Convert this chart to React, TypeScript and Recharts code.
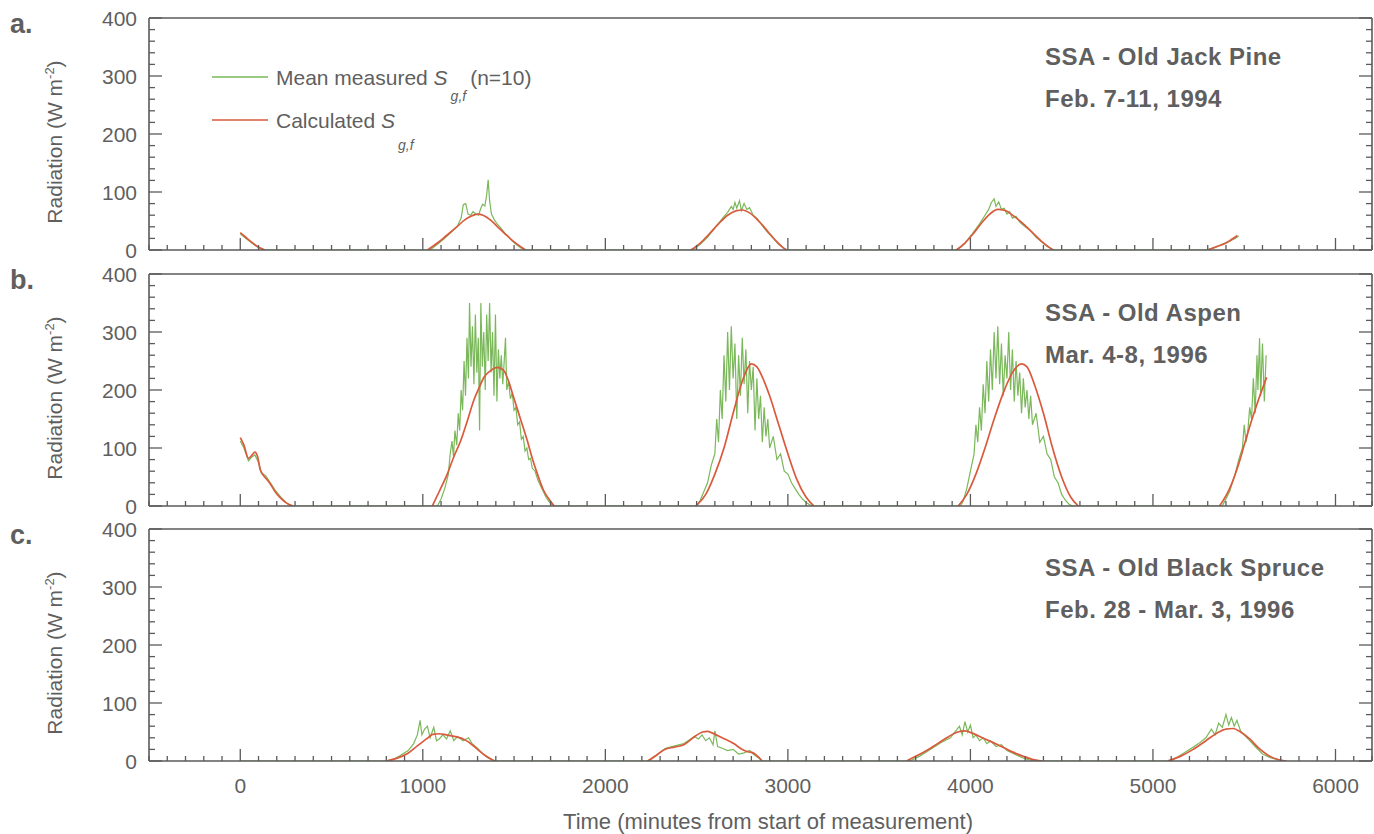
import React from 'react';
import { LineChart, Line, XAxis, YAxis } from 'recharts';

// time axis (minutes from start of measurement)
const timeDomain = [-500, 6200];
const timeLabels = [0, 1000, 2000, 3000, 4000, 5000, 6000];
const radiationLabels = [0, 100, 200, 300, 400];

// a. SSA - Old Jack Pine
const jackPineMeasured = [
  [0, 28], [30, 20], [60, 13], [90, 6], [120, 1], [140, 0],
  [1040, 0], [1080, 10], [1120, 20], [1160, 32], [1190, 42], [1210, 55], [1222, 78], [1235, 80], [1248, 62], [1262, 60],
  [1275, 66], [1290, 62], [1305, 60], [1318, 72], [1328, 79], [1340, 76], [1350, 95], [1358, 121], [1366, 85], [1376, 62],
  [1392, 52], [1410, 44], [1430, 37], [1450, 29], [1470, 23], [1490, 16], [1510, 10], [1530, 5], [1550, 1], [1570, 0],
  [2480, 0], [2520, 10], [2560, 22], [2600, 38], [2630, 50], [2650, 58], [2670, 65], [2690, 75], [2700, 70], [2710, 82],
  [2720, 72], [2735, 85], [2745, 68], [2760, 80], [2775, 70], [2790, 73], [2810, 60], [2830, 55], [2860, 42], [2890, 30],
  [2920, 20], [2950, 10], [2980, 3], [3000, 0],
  [3930, 0], [3970, 12], [4010, 28], [4050, 45], [4080, 60], [4100, 70], [4115, 82], [4130, 88], [4140, 75], [4155, 83],
  [4170, 70], [4185, 72], [4200, 62], [4215, 66], [4230, 55], [4250, 58], [4270, 48], [4300, 40], [4330, 33], [4360, 22],
  [4390, 14], [4420, 6], [4450, 1], [4460, 0],
  [5290, 0], [5340, 4], [5380, 10], [5420, 15], [5450, 20], [5470, 24],
];
const jackPineCalculated = [
  [[0, 30], [30, 22], [60, 14], [90, 7], [120, 2], [135, 0]],
  [[1026, 0], [1080, 12], [1130, 25], [1180, 38], [1230, 52], [1270, 59], [1300, 62], [1330, 60], [1370, 52], [1410, 40],
    [1450, 28], [1500, 14], [1540, 5], [1563, 0]],
  [[2468, 0], [2520, 12], [2570, 28], [2620, 45], [2670, 60], [2720, 68], [2750, 69], [2790, 64], [2840, 50], [2890, 32],
    [2940, 14], [2970, 5], [2990, 0]],
  [[3922, 0], [3970, 12], [4020, 30], [4070, 50], [4110, 63], [4150, 70], [4190, 68], [4240, 58], [4290, 45], [4340, 30],
    [4390, 15], [4430, 5], [4454, 0]],
  [[5300, 0], [5350, 6], [5400, 12], [5430, 18], [5463, 25]],
];

// b. SSA - Old Aspen
const aspenMeasured = [
  [0, 112], [20, 100], [45, 78], [65, 85], [80, 88], [100, 75], [115, 58], [140, 52], [165, 40], [190, 28], [220, 16],
  [250, 6], [270, 1], [290, 0],
  [1080, 0], [1100, 12], [1120, 30], [1140, 55], [1150, 90], [1160, 112], [1168, 85], [1176, 130], [1186, 105], [1194, 160],
  [1202, 130], [1210, 200], [1218, 165], [1226, 250], [1234, 190], [1242, 290], [1250, 220], [1256, 350], [1264, 240],
  [1272, 310], [1280, 210], [1288, 330], [1296, 230], [1304, 290], [1311, 130], [1318, 350], [1326, 240], [1334, 300],
  [1342, 200], [1350, 330], [1358, 250], [1366, 350], [1374, 230], [1382, 300], [1390, 190], [1398, 330], [1406, 180],
  [1414, 270], [1422, 220], [1430, 260], [1438, 210], [1446, 250], [1453, 290], [1460, 200], [1470, 215], [1480, 185],
  [1490, 195], [1500, 165], [1510, 170], [1520, 140], [1530, 145], [1540, 115], [1550, 120], [1560, 95], [1570, 100],
  [1580, 80], [1590, 82], [1600, 65], [1615, 60], [1630, 45], [1645, 35], [1660, 25], [1675, 15], [1690, 8], [1705, 3],
  [1720, 0],
  [2500, 0], [2520, 10], [2540, 25], [2560, 40], [2580, 70], [2600, 90], [2610, 150], [2620, 110], [2630, 200], [2640, 150],
  [2650, 260], [2660, 180], [2670, 300], [2680, 200], [2690, 310], [2700, 220], [2710, 280], [2720, 150], [2730, 260],
  [2740, 190], [2750, 290], [2760, 210], [2770, 270], [2780, 160], [2790, 250], [2800, 200], [2810, 240], [2820, 130],
  [2830, 220], [2840, 150], [2850, 190], [2860, 110], [2870, 170], [2880, 120], [2890, 150], [2900, 100], [2920, 120],
  [2940, 80], [2960, 90], [2980, 60], [3000, 55], [3020, 40], [3040, 30], [3060, 20], [3080, 12], [3100, 6], [3120, 2],
  [3140, 0],
  [3945, 0], [3960, 8], [3980, 30], [4000, 60], [4020, 90], [4030, 140], [4040, 110], [4050, 170], [4060, 130], [4070, 210],
  [4080, 160], [4090, 250], [4100, 180], [4110, 270], [4120, 200], [4130, 300], [4140, 220], [4150, 310], [4160, 210],
  [4170, 280], [4180, 190], [4190, 260], [4200, 220], [4210, 300], [4220, 200], [4230, 270], [4240, 180], [4250, 250],
  [4260, 190], [4270, 230], [4280, 160], [4290, 220], [4300, 170], [4310, 200], [4320, 150], [4330, 190], [4340, 140],
  [4360, 160], [4380, 110], [4400, 120], [4420, 90], [4440, 80], [4460, 50], [4480, 40], [4500, 20], [4520, 10],
  [4540, 3], [4560, 0],
  [5380, 0], [5420, 25], [5450, 55], [5470, 80], [5490, 100], [5500, 140], [5510, 110], [5520, 130], [5530, 170],
  [5540, 150], [5550, 220], [5560, 160], [5570, 260], [5575, 200], [5584, 289], [5590, 190], [5600, 280], [5610, 180],
  [5620, 260],
];
const aspenCalculated = [
  [[0, 118], [20, 105], [45, 82], [65, 88], [80, 93], [95, 85], [110, 62], [140, 48], [165, 38], [190, 25], [220, 14],
    [245, 7], [265, 3], [290, 0]],
  [[1052, 0], [1090, 25], [1134, 55], [1170, 85], [1207, 112], [1245, 148], [1279, 182], [1310, 205], [1335, 222],
    [1370, 233], [1409, 239], [1443, 234], [1470, 215], [1498, 187], [1535, 150], [1573, 112], [1600, 82], [1628, 55],
    [1660, 28], [1700, 8], [1720, 0]],
  [[2496, 0], [2550, 20], [2600, 55], [2650, 100], [2700, 160], [2750, 215], [2780, 238], [2800, 245], [2830, 240],
    [2870, 215], [2900, 190], [2950, 140], [3000, 90], [3050, 45], [3100, 15], [3143, 0]],
  [[3933, 0], [3980, 20], [4030, 55], [4080, 100], [4130, 150], [4180, 195], [4230, 230], [4280, 245], [4310, 240],
    [4350, 210], [4400, 160], [4450, 100], [4500, 50], [4550, 15], [4591, 0]],
  [[5365, 0], [5420, 30], [5470, 73], [5500, 105], [5540, 147], [5580, 185], [5623, 222]],
];

// c. SSA - Old Black Spruce
const spruceMeasured = [
  [0, 0], [820, 0], [870, 8], [920, 18], [950, 30], [970, 45], [985, 70], [995, 45], [1010, 55], [1025, 60], [1040, 40],
  [1060, 58], [1075, 35], [1090, 38], [1110, 45], [1130, 38], [1150, 52], [1170, 35], [1190, 42], [1220, 35], [1250, 40],
  [1270, 30], [1300, 22], [1330, 12], [1360, 5], [1400, 0],
  [2240, 0], [2290, 12], [2330, 22], [2380, 26], [2430, 30], [2460, 36], [2490, 42], [2510, 38], [2530, 45], [2550, 35],
  [2570, 40], [2590, 28], [2600, 52], [2615, 25], [2640, 22], [2670, 18], [2700, 20], [2730, 12], [2760, 14], [2790, 18],
  [2810, 12], [2840, 5], [2860, 0],
  [3670, 0], [3720, 8], [3780, 20], [3840, 32], [3890, 40], [3920, 52], [3940, 60], [3955, 45], [3970, 68], [3985, 50],
  [4000, 62], [4015, 40], [4030, 45], [4050, 35], [4070, 40], [4090, 30], [4110, 35], [4140, 25], [4170, 28], [4200, 18],
  [4240, 12], [4280, 6], [4320, 2], [4350, 0],
  [5100, 0], [5150, 10], [5200, 20], [5250, 30], [5290, 40], [5320, 55], [5340, 45], [5360, 65], [5380, 58], [5400, 80],
  [5415, 62], [5430, 75], [5445, 60], [5460, 70], [5480, 52], [5500, 45], [5530, 35], [5560, 25], [5600, 12], [5640, 6],
  [5690, 2], [5730, 0],
];
const spruceCalculated = [
  [[800, 0], [860, 5], [917, 13], [970, 26], [1024, 39], [1054, 46], [1090, 47], [1129, 45], [1180, 42], [1234, 36],
    [1270, 28], [1300, 20], [1340, 10], [1391, 0]],
  [[2231, 0], [2280, 10], [2325, 20], [2380, 24], [2430, 28], [2480, 40], [2534, 50], [2560, 51], [2587, 48], [2640, 40],
    [2703, 30], [2750, 20], [2780, 16], [2810, 14], [2835, 8], [2859, 0]],
  [[3650, 0], [3700, 8], [3760, 18], [3820, 30], [3880, 42], [3930, 50], [3970, 52], [4010, 48], [4080, 38], [4150, 28],
    [4220, 17], [4290, 8], [4350, 2], [4390, 0]],
  [[5080, 0], [5150, 8], [5220, 20], [5290, 35], [5350, 48], [5400, 55], [5440, 56], [5480, 50], [5530, 38], [5580, 22],
    [5630, 10], [5680, 3], [5730, 0]],
];

const GREEN = '#7ab85a';
const RED = '#d95a3c';
const AXIS = '#5a5a5a';
const TEXT = '#5f5f5f';
const FONT = '"Liberation Sans", Arial, Helvetica, sans-serif';

const toPoints = (pairs: number[][]) => pairs.map(([t, v]) => ({ t, v }));
// humps joined with a null gap so the calculated curve is not drawn at night
const joinHumps = (humps: number[][][]) =>
  humps.flatMap((h, i) => (i === 0 ? toPoints(h) : [{ t: (humps[i - 1][humps[i - 1].length - 1][0] + h[0][0]) / 2, v: null }, ...toPoints(h)]));

const minorTimeTicks: number[] = [];
for (let t = timeDomain[0]; t <= timeDomain[1]; t += 100) minorTimeTicks.push(t);
const minorRadTicks: number[] = [];
for (let r = 0; r <= 400; r += 20) minorRadTicks.push(r);

const XTick = (props: any) => {
  const { x, y, payload, showLabels } = props;
  const v = payload.value;
  const major = timeLabels.includes(v);
  return (
    <g>
      <line x1={x} x2={x} y1={y} y2={y - (major ? 12 : 5)} stroke={AXIS} strokeWidth={1.3} />
      {showLabels && major && (
        <text x={x} y={y + 32} textAnchor="middle" fill={TEXT} fontSize={21} fontFamily={FONT}>
          {v}
        </text>
      )}
    </g>
  );
};

const YTick = (props: any) => {
  const { x, y, payload, side } = props;
  const v = payload.value;
  const major = radiationLabels.includes(v);
  const len = major ? 13 : 6;
  const dir = side === 'left' ? 1 : -1;
  return (
    <g>
      <line x1={x} x2={x + dir * len} y1={y} y2={y} stroke={AXIS} strokeWidth={1.3} />
      {side === 'left' && major && (
        <text x={x - 12} y={y + 7.5} textAnchor="end" fill={TEXT} fontSize={21} fontFamily={FONT}>
          {v}
        </text>
      )}
    </g>
  );
};

const PLOT_H = 232;

const Panel = ({ top, measured, calculated, showLabels }: any) => {
  const bottomPad = showLabels ? 40 : 12;
  return (
    <div style={{ position: 'absolute', left: 0, top: top - 13 }}>
      <LineChart width={1374} height={13 + PLOT_H + 1 + bottomPad} margin={{ top: 12, right: 1, bottom: bottomPad, left: 0 }}>
        <XAxis
          dataKey="t"
          type="number"
          domain={timeDomain}
          allowDataOverflow
          ticks={minorTimeTicks}
          interval={0}
          height={1}
          tickSize={0}
          tickMargin={0}
          tickLine={false}
          axisLine={{ stroke: AXIS, strokeWidth: 1.6 }}
          tick={<XTick showLabels={showLabels} />}
        />
        <XAxis
          xAxisId="top"
          orientation="top"
          dataKey="t"
          type="number"
          domain={timeDomain}
          allowDataOverflow
          height={1}
          tick={false}
          tickLine={false}
          axisLine={{ stroke: AXIS, strokeWidth: 1.6 }}
        />
        <YAxis
          type="number"
          domain={[0, 400]}
          allowDataOverflow
          ticks={minorRadTicks}
          interval={0}
          width={149}
          tickSize={0}
          tickMargin={0}
          tickLine={false}
          axisLine={{ stroke: AXIS, strokeWidth: 1.6 }}
          tick={<YTick side="left" />}
        />
        <YAxis
          yAxisId="right"
          orientation="right"
          type="number"
          domain={[0, 400]}
          allowDataOverflow
          ticks={minorRadTicks}
          interval={0}
          width={1}
          tickSize={0}
          tickMargin={0}
          tickLine={false}
          axisLine={{ stroke: AXIS, strokeWidth: 1.6 }}
          tick={<YTick side="right" />}
        />
        <Line
          data={toPoints(measured)}
          dataKey="v"
          type="linear"
          stroke={GREEN}
          strokeWidth={1.2}
          dot={false}
          activeDot={false}
          isAnimationActive={false}
        />
        <Line
          data={joinHumps(calculated)}
          dataKey="v"
          type="monotone"
          stroke={RED}
          strokeWidth={1.7}
          dot={false}
          activeDot={false}
          connectNulls={false}
          isAnimationActive={false}
        />
      </LineChart>
    </div>
  );
};

const panels = [
  { letter: 'a.', top: 18, site: 'SSA - Old Jack Pine', dates: 'Feb. 7-11, 1994', measured: jackPineMeasured, calculated: jackPineCalculated },
  { letter: 'b.', top: 274, site: 'SSA - Old Aspen', dates: 'Mar. 4-8, 1996', measured: aspenMeasured, calculated: aspenCalculated },
  { letter: 'c.', top: 529, site: 'SSA - Old Black Spruce', dates: 'Feb. 28 - Mar. 3, 1996', measured: spruceMeasured, calculated: spruceCalculated },
];

export default function App() {
  return (
    <div style={{ position: 'absolute', left: 0, top: 0, width: 1374, height: 834, background: '#fff', fontFamily: FONT }}>
      {panels.map((p, i) => (
        <Panel key={p.letter} top={p.top} measured={p.measured} calculated={p.calculated} showLabels={i === panels.length - 1} />
      ))}
      <svg width={1374} height={834} style={{ position: 'absolute', left: 0, top: 0, pointerEvents: 'none' }}>
        {panels.map((p) => (
          <g key={p.letter} fontFamily={FONT}>
            <text x={10} y={p.top + 15} fontSize={27} fontWeight="bold" fill={TEXT}>{p.letter}</text>
            <text x={1045} y={p.top + 47} fontSize={24} fontWeight="bold" fill={TEXT} letterSpacing={0.5}>{p.site}</text>
            <text x={1045} y={p.top + 89} fontSize={24} fontWeight="bold" fill={TEXT} letterSpacing={0.5}>{p.dates}</text>
            <text
              transform={`translate(62, ${p.top + 124}) rotate(-90)`}
              textAnchor="middle"
              fontSize={21}
              fill={TEXT}
            >
              Radiation (W m<tspan fontSize={13} dy={-8}>-2</tspan><tspan dy={8}>)</tspan>
            </text>
          </g>
        ))}
        <text x={768} y={829} textAnchor="middle" fontSize={22} fill={TEXT} fontFamily={FONT}>
          Time (minutes from start of measurement)
        </text>
        <g fontFamily={FONT} fill={TEXT}>
          <line x1={212} x2={268} y1={77} y2={77} stroke={GREEN} strokeWidth={1.3} />
          <text x={276} y={85} fontSize={21}>
            Mean measured <tspan fontStyle="italic">S</tspan>
            <tspan fontSize={14} fontStyle="italic" dx={3} dy={16}>g,f</tspan>
            <tspan dx={4} dy={-16}>(n=10)</tspan>
          </text>
          <line x1={212} x2={268} y1={120} y2={120} stroke={RED} strokeWidth={1.3} />
          <text x={276} y={128} fontSize={21}>
            Calculated <tspan fontStyle="italic">S</tspan>
            <tspan fontSize={14} fontStyle="italic" dx={3} dy={22}>g,f</tspan>
          </text>
        </g>
      </svg>
    </div>
  );
}
